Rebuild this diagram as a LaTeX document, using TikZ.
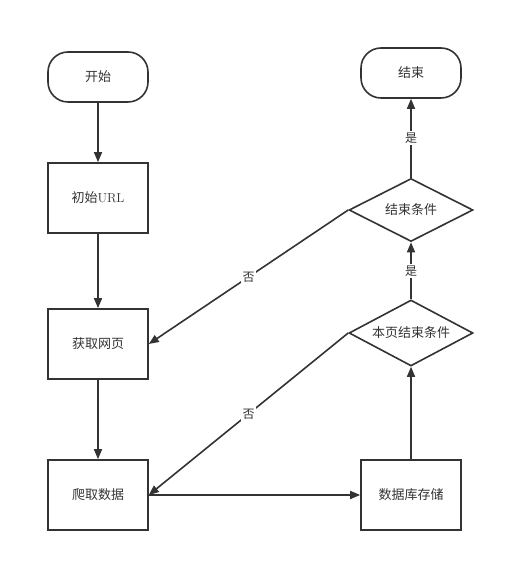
\documentclass[tikz,border=0pt]{standalone}
\usepackage{fontspec}
\newfontfamily\cjk{Noto Sans CJK SC}
\usepackage{tikz}
\usetikzlibrary{shapes.geometric, arrows.meta, positioning}
\definecolor{linegray}{HTML}{333333}

\begin{document}
\begin{tikzpicture}[
    x=1pt, y=1pt,
    every node/.style={text=linegray, font=\cjk\fontsize{13}{15}\selectfont},
    terminal/.style={rectangle, draw=linegray, line width=1.6pt, rounded corners=20pt, minimum width=100pt, minimum height=50pt, align=center},
    box/.style={rectangle, draw=linegray, line width=1.6pt, minimum width=100pt, minimum height=70pt, align=center},
    decision/.style={diamond, draw=linegray, line width=1.6pt, aspect=1.9, inner sep=0pt, minimum width=124pt, minimum height=66pt, align=center},
    lbl/.style={fill=white, inner sep=1.5pt, font=\cjk\fontsize{12}{14}\selectfont},
    arrow/.style={-{Triangle[length=10pt, width=8pt]}, draw=linegray, line width=1.6pt}
]
\useasboundingbox (0,0) rectangle (505,562);

% Left column
\node[terminal] (start) at (98,485) {开始};
\node[box] (url) at (98,364) {初始{\fontspec{Latin Modern Roman}URL}};
\node[box] (fetch) at (98,218) {获取网页};
\node[box] (crawl) at (98,67) {爬取数据};

% Right column
\node[box] (store) at (411,67) {数据库存储};
\node[decision] (pagecond) at (411,229) {本页结束条件};
\node[decision, minimum height=63pt] (endcond) at (411,352) {结束条件};
\node[terminal] (finish) at (411,489) {结束};

\draw[arrow] (start) -- (url);
\draw[arrow] (url) -- (fetch);
\draw[arrow] (fetch) -- (crawl);
\draw[arrow] (crawl.east) -- (store.west);
\draw[arrow] (store) -- (pagecond);
\draw[arrow] (pagecond) -- node[lbl] {是} (endcond);
\draw[arrow] (endcond) -- node[lbl] {是} (finish);

% Loops back
\draw[arrow] (pagecond.west) -- node[lbl] {否} (crawl.east);
\draw[arrow] (endcond.west) -- node[lbl] {否} (fetch.east);

\end{tikzpicture}
\end{document}
